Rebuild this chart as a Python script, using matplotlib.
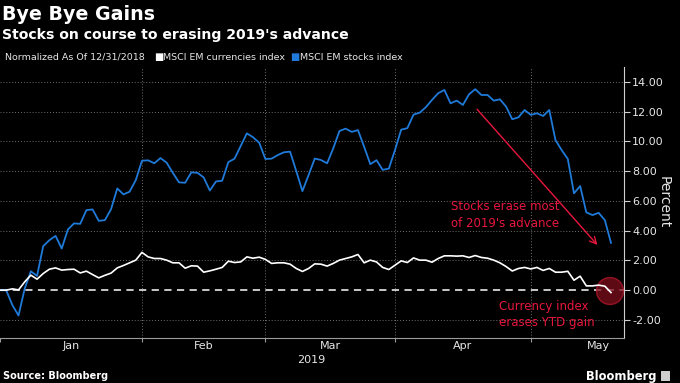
import matplotlib.pyplot as plt
from matplotlib.patches import Ellipse, Rectangle
from matplotlib.ticker import FixedLocator, FormatStrFormatter

# trading-day index 0 = 12/31/2018, one point per trading day
stocks = [0.00, 0.00, -1.00, -1.70, 0.10, 1.27, 0.96, 2.96, 3.36, 3.65,
          2.80, 4.08, 4.49, 4.46, 5.38, 5.43, 4.66, 4.71, 5.45, 6.84,
          6.44, 6.62, 7.40, 8.70, 8.73, 8.53, 8.88, 8.57, 7.89, 7.25,
          7.22, 7.92, 7.89, 7.58, 6.70, 7.31, 7.36, 8.61, 8.84, 9.69,
          10.54, 10.28, 9.91, 8.82, 8.84, 9.08, 9.27, 9.31, 8.01, 6.66,
          7.74, 8.85, 8.75, 8.53, 9.54, 10.70, 10.86, 10.64, 10.76, 9.64,
          8.47, 8.74, 8.09, 8.17, 9.42, 10.79, 10.89, 11.80, 11.93, 12.30,
          12.79, 13.24, 13.46, 12.56, 12.74, 12.45, 13.17, 13.51, 13.12, 13.12,
          12.74, 12.83, 12.34, 11.49, 11.62, 12.11, 11.78, 11.89, 11.71, 12.11,
          10.09, 9.42, 8.82, 6.51, 7.00, 5.23, 5.05, 5.20, 4.71, 3.18]

currencies = [0.00, 0.00, 0.09, 0.02, 0.56, 1.01, 0.74, 1.12, 1.41, 1.50,
              1.35, 1.39, 1.41, 1.16, 1.28, 1.05, 0.83, 1.00, 1.15, 1.50,
              1.66, 1.84, 2.02, 2.54, 2.24, 2.13, 2.13, 2.02, 1.84, 1.84,
              1.48, 1.64, 1.62, 1.21, 1.30, 1.41, 1.53, 1.95, 1.86, 1.90,
              2.24, 2.15, 2.22, 2.07, 1.80, 1.84, 1.84, 1.75, 1.46, 1.26,
              1.46, 1.77, 1.75, 1.62, 1.80, 2.02, 2.13, 2.24, 2.40, 1.84,
              2.02, 1.90, 1.53, 1.39, 1.68, 1.97, 1.86, 2.17, 2.02, 2.02,
              1.88, 2.13, 2.31, 2.31, 2.29, 2.31, 2.20, 2.33, 2.20, 2.15,
              2.02, 1.84, 1.59, 1.29, 1.46, 1.53, 1.43, 1.53, 1.33, 1.46,
              1.21, 1.21, 1.27, 0.67, 0.94, 0.29, 0.29, 0.34, 0.27, -0.16]

month_starts = [0, 23, 43, 64, 86]
month_names = ["Jan", "Feb", "Mar", "Apr", "May"]
month_mid = [11.5, 33, 53.5, 75, 97]
y_ticks = [-2, 0, 2, 4, 6, 8, 10, 12, 14]

BG = "black"
BLUE = "#1f7ad9"
RED = "#e8173d"
GRID = "#6e6e6e"
TXT = "#e6e6e6"

fig = plt.figure(figsize=(6.8, 3.83), dpi=100, facecolor=BG)
ax = fig.add_axes([0.0, 0.118, 0.9176, 0.707], facecolor=BG)

x = list(range(len(stocks)))
ax.plot(x, stocks, color=BLUE, lw=1.3, zorder=3)
ax.plot(x, currencies, color="white", lw=1.2, zorder=3)
ax.axhline(0, color="#d8d8d8", lw=1.3, ls=(0, (4, 3)), zorder=2)

ax.set_xlim(0, 101.1)
ax.set_ylim(-3.2, 15.0)

# grid
for yv in y_ticks:
    if yv != 0:
        ax.axhline(yv, color=GRID, lw=0.7, ls=(0, (1, 2)), zorder=1)
for xv in month_starts[1:]:
    ax.axvline(xv, color=GRID, lw=0.7, ls=(0, (1, 2)), zorder=1)

# axes styling
for side in ["top", "left"]:
    ax.spines[side].set_visible(False)
ax.spines["bottom"].set_color("#9a9a9a")
ax.spines["right"].set_color("#d0d0d0")

ax.xaxis.set_major_locator(FixedLocator(month_starts))
ax.xaxis.set_minor_locator(FixedLocator(month_mid))
ax.set_xticklabels([""] * len(month_starts))
ax.set_xticklabels(month_names, minor=True)
ax.tick_params(axis="x", which="major", length=3, color="#9a9a9a")
ax.tick_params(axis="x", which="minor", length=0, colors=TXT, labelsize=8, pad=2)

ax.yaxis.tick_right()
ax.yaxis.set_major_locator(FixedLocator(y_ticks))
ax.yaxis.set_major_formatter(FormatStrFormatter("%.2f"))
ax.tick_params(axis="y", length=4, color="#d0d0d0", colors=TXT, labelsize=8, pad=2)
ax.yaxis.set_label_position("right")
ax.set_ylabel("Percent", color=TXT, fontsize=10, rotation=270, labelpad=5)

ax.text(50.5, -0.065, "2019", transform=ax.get_xaxis_transform(),
        ha="center", va="top", color=TXT, fontsize=8)

# annotations
ax.annotate("", xy=(97.1, 2.9), xytext=(77.0, 12.3),
            arrowprops=dict(arrowstyle="->", color=RED, lw=1.0,
                            mutation_scale=12))
ax.text(73.0, 5.07, "Stocks erase most\nof 2019's advance", color=RED,
        fontsize=8.5, ha="left", va="center", linespacing=1.35)
ax.text(80.9, -1.63, "Currency index\nerases YTD gain", color=RED,
        fontsize=8.5, ha="left", va="center", linespacing=1.25)
# highlight circle, drawn under the lines
ax.add_patch(Ellipse((610 / 680, 1 - 291 / 383), 27 / 680, 27 / 383,
                     transform=fig.transFigure, facecolor="#7e0e1d",
                     edgecolor="#b5172c", alpha=0.75, lw=1, zorder=2.5,
                     clip_on=False))

# titles and legend line
fig.text(0.003, 0.963, "Bye Bye Gains", color="white", fontsize=13.7,
         fontweight="bold", va="center", ha="left")
fig.text(0.003, 0.908, "Stocks on course to erasing 2019's advance",
         color="white", fontsize=10.1, fontweight="bold", va="center", ha="left")
fig.text(0.007, 0.851, "Normalized As Of 12/31/2018", color=TXT,
         fontsize=6.8, va="center", ha="left")
fig.text(0.226, 0.851, "■", color="white", fontsize=7, va="center", ha="left")
fig.text(0.2397, 0.851, "MSCI EM currencies index", color=TXT,
         fontsize=6.8, va="center", ha="left")
fig.text(0.426, 0.851, "■", color=BLUE, fontsize=7, va="center", ha="left")
fig.text(0.441, 0.851, "MSCI EM stocks index", color=TXT,
         fontsize=6.8, va="center", ha="left")

fig.text(0.004, 0.018, "Source: Bloomberg", color="white", fontsize=7,
         fontweight="bold", va="center", ha="left")
fig.text(0.966, 0.018, "Bloomberg", color="white", fontsize=8.3,
         fontweight="bold", va="center", ha="right")
fig.patches.append(Rectangle((0.972, 0.006), 0.014, 0.025,
                             transform=fig.transFigure, facecolor="#cfcfcf"))

fig.savefig("out.png", dpi=100, facecolor=BG)
